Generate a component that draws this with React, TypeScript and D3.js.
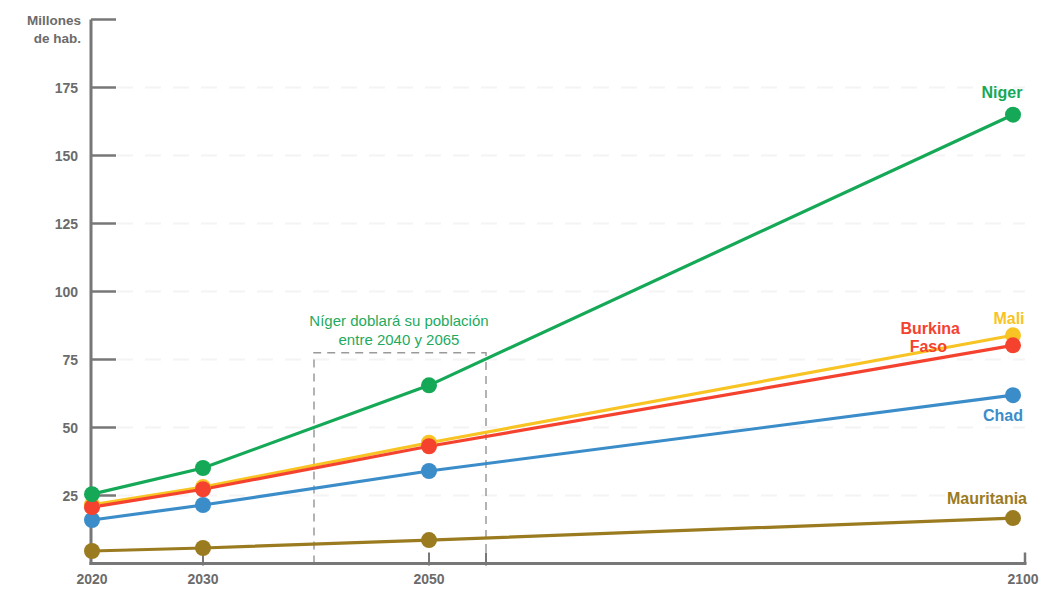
import React, { useEffect } from "react";
import * as d3 from "d3";

// Population projections (millions of inhabitants)
const years = [2020, 2030, 2050, 2100];
const niger = [25.5, 35.1, 65.5, 165.0];
const mali = [21.6, 28.1, 44.4, 83.9];
const burkinaFaso = [20.7, 27.3, 43.1, 80.2];
const chad = [16.0, 21.5, 34.0, 61.9];
const mauritania = [4.6, 5.7, 8.6, 16.7];

const yTicks = [25, 50, 75, 100, 125, 150, 175];
const xTickYears = [2020, 2030, 2050, 2100];
const doublingSpan = [2040, 2065];
const doublingTop = 77.5;

const W = 1046;
const H = 589;

const FONT = "'Liberation Sans', Arial, sans-serif";
const AXIS = "#777";
const TEXT = "#6b6b6b";

const series = [
  { name: "Mauritania", values: mauritania, color: "#9b7b1f" },
  { name: "Chad", values: chad, color: "#3b8dc9" },
  { name: "Mali", values: mali, color: "#f8c423" },
  { name: "Burkina Faso", values: burkinaFaso, color: "#f5422f" },
  { name: "Niger", values: niger, color: "#15a957" },
];

export default function App() {
  useEffect(() => {
    document.body.style.margin = "0";
  }, []);

  // the time axis is drawn schematically, stretched per segment
  const x = d3
    .scaleLinear()
    .domain([2020, 2030, 2040, 2050, 2065, 2100])
    .range([92, 203, 314, 429, 486, 1013]);
  const y = d3.scaleLinear().domain([0, 200]).range([563.5, 19.5]);

  const axisLeft = 91;
  const axisRight = 1025;
  const axisY = y(0);

  const line = d3
    .line<[number, number]>()
    .x((d) => x(d[0]))
    .y((d) => y(d[1]));

  const xLabelPos = (yr: number) => (yr === 2100 ? axisRight - 2 : x(yr));

  return (
    <svg width={W} height={H} style={{ display: "block", background: "#fff" }} fontFamily={FONT}>
      {/* faint horizontal guides */}
      {yTicks.map((t) => (
        <line
          key={"g" + t}
          x1={axisLeft + 26}
          x2={axisRight}
          y1={y(t)}
          y2={y(t)}
          stroke="#f4f4f4"
          strokeWidth={2}
          strokeDasharray="16 12"
        />
      ))}

      {/* doubling window */}
      <path
        d={`M${x(doublingSpan[0])},${axisY} V${y(doublingTop)} H${x(doublingSpan[1])} V${axisY}`}
        fill="none"
        stroke="#9a9a9a"
        strokeWidth={1.5}
        strokeDasharray="8 6"
      />
      <text x={399} y={326} textAnchor="middle" fontSize={15} fill="#1faa5f">
        <tspan x={399}>Níger doblará su población</tspan>
        <tspan x={399} dy={19}>entre 2040 y 2065</tspan>
      </text>

      {/* y axis */}
      <line x1={axisLeft} x2={axisLeft} y1={y(200)} y2={axisY + 1.5} stroke={AXIS} strokeWidth={3} />
      {[...yTicks, 200].map((t) => (
        <line key={"t" + t} x1={axisLeft} x2={axisLeft + 25} y1={y(t)} y2={y(t)} stroke={AXIS} strokeWidth={2.5} />
      ))}
      {yTicks.map((t) => (
        <text
          key={"l" + t}
          x={78}
          y={y(t)}
          dy="0.36em"
          textAnchor="end"
          fontSize={14}
          fontWeight="bold"
          fill={TEXT}
        >
          {t}
        </text>
      ))}
      <text x={81} y={25} textAnchor="end" fontSize={13.5} fontWeight="bold" fill={TEXT}>
        <tspan x={81}>Millones</tspan>
        <tspan x={81} dy={18}>de hab.</tspan>
      </text>

      {/* x axis */}
      <line x1={axisLeft - 1.5} x2={axisRight + 1.5} y1={axisY} y2={axisY} stroke={AXIS} strokeWidth={3} />
      {[2030, 2050, 2065].map((yr) => (
        <line key={"xt" + yr} x1={x(yr)} x2={x(yr)} y1={axisY - 11} y2={axisY + 2} stroke={AXIS} strokeWidth={2} />
      ))}
      <line x1={axisRight} x2={axisRight} y1={axisY - 11} y2={axisY} stroke={AXIS} strokeWidth={2.5} />
      {xTickYears.map((yr) => (
        <text
          key={"xl" + yr}
          x={xLabelPos(yr)}
          y={584}
          textAnchor="middle"
          fontSize={14}
          fontWeight="bold"
          fill={TEXT}
        >
          {yr}
        </text>
      ))}

      {/* series lines */}
      {series.map((s) => (
        <path
          key={"p" + s.name}
          d={line(years.map((yr, i) => [yr, s.values[i]] as [number, number])) || ""}
          fill="none"
          stroke={s.color}
          strokeWidth={3.2}
        />
      ))}
      {series.map((s) => (
        <g key={"c" + s.name}>
          {years.map((yr, i) => (
            <circle key={yr} cx={x(yr)} cy={y(s.values[i])} r={8} fill={s.color} />
          ))}
        </g>
      ))}

      {/* end labels */}
      <g fontSize={16} fontWeight="bold">
        <text x={1002} y={98} textAnchor="middle" fill="#15a957">Niger</text>
        <text x={1009} y={324} textAnchor="middle" fill="#f8c423">Mali</text>
        <text x={960} y={334} textAnchor="end" fill="#f5422f">
          <tspan x={960}>Burkina</tspan>
          <tspan x={947} dy={18}>Faso</tspan>
        </text>
        <text x={1003} y={421} textAnchor="middle" fill="#3b8dc9">Chad</text>
        <text x={1027} y={504} textAnchor="end" fill="#9b7b1f">Mauritania</text>
      </g>
    </svg>
  );
}
